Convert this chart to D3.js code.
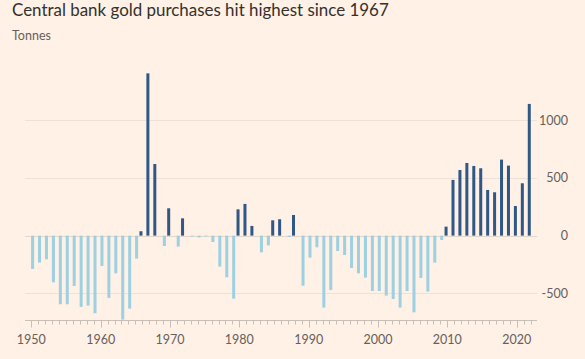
<!DOCTYPE html>
<html>
<head>
<meta charset="utf-8">
<script src="https://cdn.jsdelivr.net/npm/d3@7"></script>
<style>
  html, body { margin: 0; padding: 0; background: #FFF1E5; }
  svg { display: block; }
  text { font-family: Lato, "Open Sans", sans-serif; }
</style>
</head>
<body>
<svg id="chart" width="585" height="359"></svg>
<script>
const title = "Central bank gold purchases hit highest since 1967";
const subtitle = "Tonnes";
const years = d3.range(1950, 2023);
const netPurchases = [
  -289, -234, -205, -405, -595, -595, -436, -618, -607, -673,
  -263, -540, -327, -728, -633, -199, 38, 1407, 621, -90,
  237, -95, 150, -8, -16, -6, -55, -269, -361, -546,
  228, 275, 84, -145, -84, 133, 142, -12, 179, -434,
  -191, -101, -624, -471, -133, -168, -280, -327, -364, -480,
  -480, -520, -549, -624, -480, -665, -367, -485, -234, -38,
  78, 483, 569, 630, 604, 584, 396, 376, 659, 607,
  257, 454, 1142
];
const yTicks = [-500, 0, 500, 1000];
const xTickLabels = [1950, 1960, 1970, 1980, 1990, 2000, 2010, 2020];

const data = years.map((y, i) => ({ year: y, value: netPurchases[i] }));

const svg = d3.select("#chart");
svg.append("rect").attr("width", 585).attr("height", 359).attr("fill", "#FFF1E5");

const x = d3.scaleLinear().domain([1950, 2020]).range([31.3, 516.7]);
const y = d3.scaleLinear().domain([-500, 1000]).range([293.3, 120.3]);
const plotLeft = 25, plotRight = 537, axisY = 320.5;

// gridlines
svg.append("g").selectAll("line").data(yTicks).join("line")
  .attr("x1", plotLeft).attr("x2", plotRight)
  .attr("y1", d => Math.round(y(d)) + 0.5).attr("y2", d => Math.round(y(d)) + 0.5)
  .attr("stroke", d => d === 0 ? "#e3d7cc" : "#ede2d8").attr("stroke-width", 1);

// y labels (right)
svg.append("g").selectAll("text").data(yTicks).join("text")
  .attr("x", 568).attr("y", d => y(d)).attr("dy", "0.35em")
  .attr("text-anchor", "end").attr("font-size", 12.5).attr("fill", "#66605c")
  .text(d => d);

// bars
const bw = 3;
svg.append("g").selectAll("rect").data(data).join("rect")
  .attr("x", d => x(d.year) + (d.value >= 0 ? -1.3 : 1.3) - bw / 2)
  .attr("width", bw)
  .attr("y", d => Math.min(y(0), y(d.value)))
  .attr("height", d => Math.abs(y(d.value) - y(0)))
  .attr("fill", d => d.value >= 0 ? "#2f5886" : "#9dd0e2");

// x axis
const xAxis = d3.axisBottom(x)
  .tickValues(years)
  .tickSize(4)
  .tickFormat("");
const gx = svg.append("g").attr("transform", `translate(0,${axisY})`);
gx.append("line").attr("x1", plotLeft).attr("x2", plotRight).attr("y1", 0).attr("y2", 0)
  .attr("stroke", "#c9bfb6");
gx.selectAll("line.tick").data(years).join("line").attr("class", "tick")
  .attr("x1", d => Math.round(x(d)) + 0.5).attr("x2", d => Math.round(x(d)) + 0.5)
  .attr("y1", 0).attr("y2", d => xTickLabels.includes(d) ? 7 : 4)
  .attr("stroke", "#c9bfb6");
gx.selectAll("text").data(xTickLabels).join("text")
  .attr("x", d => x(d)).attr("y", 23)
  .attr("text-anchor", "middle").attr("font-size", 12.5).attr("fill", "#66605c")
  .text(d => d);

// title
const t = svg.append("text").attr("x", 12).attr("y", 16)
  .attr("font-size", 18).attr("fill", "#33302e").text(title);
const tw = t.node().getComputedTextLength();
t.attr("font-size", 18 * 377 / tw);
const s = svg.append("text").attr("x", 12).attr("y", 39.5)
  .attr("font-size", 12.5).attr("fill", "#66605c").text(subtitle);
</script>
</body>
</html>
